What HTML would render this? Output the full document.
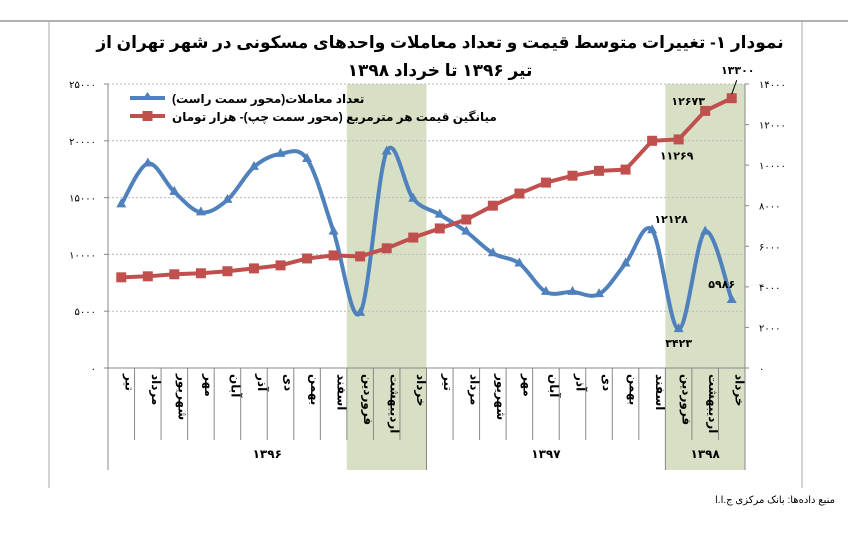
<!DOCTYPE html>
<html><head><meta charset="utf-8"><style>
body{margin:0;background:#fff;width:848px;height:529px;overflow:hidden;font-family:"Liberation Sans","Noto Sans CJK SC",sans-serif}
svg text{font-family:"Liberation Sans","DejaVu Sans",sans-serif}
</style></head><body>
<svg id="chart" width="848" height="529" xmlns="http://www.w3.org/2000/svg">
<line x1="0" y1="21" x2="848" y2="21" stroke="#999" stroke-width="1.5"/>
<line x1="49" y1="21" x2="49" y2="488" stroke="#aaa"/>
<line x1="802" y1="21" x2="802" y2="488" stroke="#aaa"/>
<text x="440" y="48" text-anchor="middle" font-size="17" font-weight="bold" direction="rtl">نمودار ۱- تغییرات متوسط قیمت و تعداد معاملات واحدهای مسکونی در شهر تهران از</text>
<text x="440" y="76" text-anchor="middle" font-size="17" font-weight="bold" direction="rtl">تیر ۱۳۹۶ تا خرداد ۱۳۹۸</text>
<g id="bands"></g><g id="grid"></g><g id="axes"></g><g id="series"></g>
<g>
<line x1="130" y1="98" x2="165" y2="98" stroke="#4f81bd" stroke-width="4"/><path d="M147.5 92 L153 100 L142 100Z" fill="#4f81bd"/>
<text x="172" y="103" font-size="12" font-weight="bold" direction="rtl" text-anchor="end">تعداد معاملات(محور سمت راست)</text>
<line x1="130" y1="116" x2="165" y2="116" stroke="#c0504d" stroke-width="4"/><rect x="142.5" y="111" width="10" height="10" fill="#c0504d"/>
<text x="172" y="121" font-size="12" font-weight="bold" direction="rtl" text-anchor="end">میانگین قیمت هر مترمربع (محور سمت چپ)- هزار تومان</text>
</g>
<text x="835" y="503" font-size="10" text-anchor="start" direction="rtl">منبع داده‌ها: بانک مرکزی ج.ا.ا</text>
</svg>
<script>
const months=["تیر","مرداد","شهریور","مهر","آبان","آذر","دی","بهمن","اسفند","فروردین","اردیبهشت","خرداد","تیر","مرداد","شهریور","مهر","آبان","آذر","دی","بهمن","اسفند","فروردین","اردیبهشت","خرداد"];
const years=["۱۳۹۶","۱۳۹۷","۱۳۹۸"];
const yearSpans=[[0,11],[12,20],[21,23]];
const transactions=[14400,18000,15500,13700,14800,17700,18850,18400,12000,4850,19050,14900,13500,12000,10100,9200,6700,6700,6500,9200,12128,3423,12000,5986];
const price=[4470,4520,4620,4670,4770,4910,5060,5400,5550,5500,5900,6430,6880,7320,8000,8600,9140,9480,9720,9780,11200,11269,12673,13300];
const leftTicks=[0,5000,10000,15000,20000,25000];
const rightTicks=[0,2000,4000,6000,8000,10000,12000,14000];
const fa=n=>String(n).replace(/\d/g,d=>"۰۱۲۳۴۵۶۷۸۹"[d]);
const X0=108,X1=745,Y0=368,Y1=84,N=months.length,bw=(X1-X0)/N;
const xc=i=>X0+bw*(i+0.5);
const yL=v=>Y0-(v/25000)*(Y0-Y1);
const yR=v=>Y0-(v/14000)*(Y0-Y1);
const NS="http://www.w3.org/2000/svg";
function mk(t,a,p){const e=document.createElementNS(NS,t);for(const k in a)e.setAttribute(k,a[k]);document.getElementById(p).appendChild(e);return e;}
[[9,11],[21,23]].forEach(([a,b],k)=>{const e=mk("rect",{x:X0+bw*a,y:Y1,width:bw*(b-a+1),height:470-Y1,fill:"#d7e0c4"},"bands");

});
leftTicks.forEach(v=>{if(v>0){const g=mk("line",{x1:X0,x2:X1,y1:yL(v),y2:yL(v),stroke:"#bbb","stroke-dasharray":"2,2"},"grid");

}
const t=mk("text",{x:X0-12,y:yL(v)+4,"text-anchor":"end","font-size":10},"axes");t.textContent=fa(v);


mk("line",{x1:X0-4,x2:X0,y1:yL(v),y2:yL(v),stroke:"#888"},"axes");});
rightTicks.forEach(v=>{const t=mk("text",{x:X1+14,y:yR(v)+4,"font-size":10},"axes");t.textContent=fa(v);


mk("line",{x1:X1,x2:X1+4,y1:yR(v),y2:yR(v),stroke:"#888"},"axes");});
mk("line",{x1:X0,x2:X0,y1:Y1,y2:Y0,stroke:"#888"},"axes");
mk("line",{x1:X1,x2:X1,y1:Y1,y2:Y0,stroke:"#888"},"axes");
mk("line",{x1:X0,x2:X1,y1:Y0,y2:Y0,stroke:"#888"},"axes");
for(let i=0;i<=N;i++){const full=[0,12,21,24].includes(i);mk("line",{x1:X0+bw*i,x2:X0+bw*i,y1:Y0,y2:full?470:440,stroke:"#888"},"axes");}
months.forEach((m,i)=>{const t=mk("text",{x:0,y:0,"font-size":12,"font-weight":"bold",direction:"rtl","text-anchor":"end",transform:`translate(${xc(i)+4},${Y0+6}) rotate(90)`},"axes");t.textContent=m;

});
yearSpans.forEach(([a,b],k)=>{const t=mk("text",{x:(xc(a)+xc(b))/2,y:458,"text-anchor":"middle","font-size":12,"font-weight":"bold"},"axes");t.textContent=years[k];

});
const bp=transactions.map((v,i)=>[xc(i),yL(v)]);
let d=`M${bp[0][0]},${bp[0][1]}`;
for(let i=0;i<bp.length-1;i++){const p0=bp[i-1]||bp[i],p1=bp[i],p2=bp[i+1],p3=bp[i+2]||p2;
d+=` C${p1[0]+(p2[0]-p0[0])/6},${p1[1]+(p2[1]-p0[1])/6} ${p2[0]-(p3[0]-p1[0])/6},${p2[1]-(p3[1]-p1[1])/6} ${p2[0]},${p2[1]}`;}
const bl=mk("path",{d,fill:"none",stroke:"#4f81bd","stroke-width":4},"series");


bp.forEach(([x,y])=>{const m=mk("path",{d:`M${x} ${y-6} L${x+5} ${y+3} L${x-5} ${y+3}Z`,fill:"#4f81bd"},"series");

});
const rp=price.map((v,i)=>[xc(i),yR(v)]);
const rl=mk("polyline",{points:rp.map(p=>p.join(",")).join(" "),fill:"none",stroke:"#c0504d","stroke-width":4},"series");


rp.forEach(([x,y])=>{const m=mk("rect",{x:x-5,y:y-5,width:10,height:10,fill:"#c0504d"},"series");

});
function lab(txt,x,y){const t=mk("text",{x,y,"text-anchor":"middle","font-size":11,"font-weight":"bold"},"series");t.textContent=fa(txt);

}
lab(price[21],xc(21)-2,yR(price[21])+20);
lab(price[22],xc(22)-17,yR(price[22])-6);
lab(price[23],xc(23)+6,yR(price[23])-24);
mk("line",{x1:xc(23),y1:yR(price[23])-4,x2:xc(23)+5,y2:yR(price[23])-18,stroke:"#000"},"series");
lab(transactions[20],xc(20)+19,yL(transactions[20])-7);
lab(transactions[21],xc(21),yL(transactions[21])+18);
lab(transactions[23],xc(23)-10,yL(transactions[23])-12);
</script>
</body></html>
